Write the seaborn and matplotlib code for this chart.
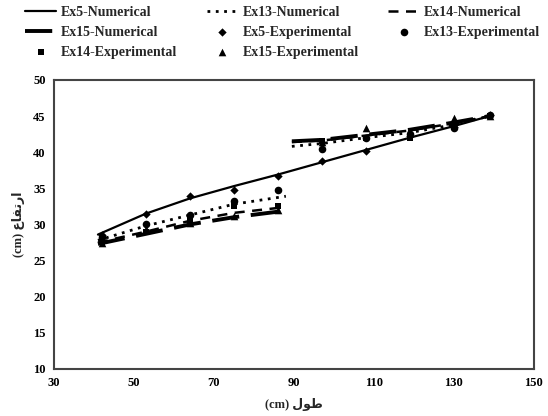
import matplotlib
matplotlib.use("Agg")
import matplotlib.pyplot as plt
import seaborn as sns

# ---- data ----
x_exp = [42, 53, 64, 75, 86, 97, 108, 119, 130, 139]
ex5_exp = [28.5, 31.5, 33.9, 34.7, 36.7, 38.8, 40.2, 42.2, 43.5, 45.1]
ex13_exp = [28.2, 30.0, 31.3, 33.3, 34.7, 40.4, 42.0, 42.5, 43.3, 45.1]
ex14_exp = [27.6, 29.0, 30.6, 32.6, 32.5, 41.6, 42.0, 42.0, 43.8, 45.0]
ex15_exp = [27.4, 29.4, 30.2, 31.1, 32.0, 41.4, 43.3, 42.8, 44.7, 45.0]

x_ex5_num = [41, 53, 64, 75, 86, 97, 108, 119, 130, 139]
ex5_num = [28.6, 31.5, 33.6, 35.3, 36.9, 38.6, 40.3, 42.0, 43.6, 45.0]

x_low = [41, 53, 64, 75, 88]
ex13_low = [27.8, 29.8, 31.3, 32.8, 33.9]
ex14_low = [27.5, 29.0, 30.5, 31.6, 32.4]
ex15_low = [27.3, 28.7, 30.0, 31.0, 31.9]

x_up = [89.5, 97, 108, 119, 130, 139]
ex13_up = [40.8, 41.2, 42.0, 42.7, 43.8, 45.0]
ex14_up = [41.4, 41.6, 42.3, 43.0, 44.0, 45.0]
ex15_up = [41.5, 41.7, 42.4, 43.1, 44.1, 45.0]

x_ticks = [30, 50, 70, 90, 110, 130, 150]
y_ticks = [10, 15, 20, 25, 30, 35, 40, 45, 50]

# Arabic labels (presentation forms in visual order, since matplotlib does no shaping)
xlabel = "(cm) \uFEDD\uFEEE\uFEC3"            # طول (cm)
ylabel = "(cm) \uFEC9\uFE8E\uFED4\uFE97\uFEAD\uFE8D"  # ارتفاع (cm)

sns.set_style("white")
FAM = ["Liberation Serif", "DejaVu Sans"]
plt.rcParams["font.family"] = FAM
plt.rcParams["font.weight"] = "bold"

fig = plt.figure(figsize=(5.48, 4.16), dpi=100)
ax = fig.add_axes([0.0985, 0.113, 0.8755, 0.695])

K = "black"
# numerical lines
sns.lineplot(x=x_ex5_num, y=ex5_num, ax=ax, color=K, lw=1.6, ls="-", label="Ex5-Numerical")
sns.lineplot(x=x_low, y=ex13_low, ax=ax, color=K, lw=2.0, ls=(0, (1, 2)), label="Ex13-Numerical")
sns.lineplot(x=x_up, y=ex13_up, ax=ax, color=K, lw=2.0, ls=(0, (1, 2)))
sns.lineplot(x=x_low, y=ex14_low, ax=ax, color=K, lw=1.8, ls=(0, (4, 3)), label="Ex14-Numerical")
sns.lineplot(x=x_up, y=ex14_up, ax=ax, color=K, lw=1.8, ls=(0, (4, 3)))
sns.lineplot(x=x_low, y=ex15_low, ax=ax, color=K, lw=2.8, ls=(0, (7, 3)), label="Ex15-Numerical")
sns.lineplot(x=x_up, y=ex15_up, ax=ax, color=K, lw=2.8, ls=(0, (7, 3)))

# experimental points
sns.scatterplot(x=x_exp, y=ex5_exp, ax=ax, color=K, marker="D", s=18, linewidth=0, label="Ex5-Experimental")
sns.scatterplot(x=x_exp, y=ex13_exp, ax=ax, color=K, marker="o", s=30, linewidth=0, label="Ex13-Experimental")
sns.scatterplot(x=x_exp, y=ex14_exp, ax=ax, color=K, marker="s", s=22, linewidth=0, label="Ex14-Experimental")
sns.scatterplot(x=x_exp, y=ex15_exp, ax=ax, color=K, marker="^", s=30, linewidth=0, label="Ex15-Experimental")

ax.set_xlim(30, 150)
ax.set_ylim(10, 50)
ax.set_xticks(x_ticks)
ax.set_yticks(y_ticks)
ax.set_xticklabels([str(v) for v in x_ticks], fontsize=9, fontweight="bold")
ax.set_yticklabels([str(v) for v in y_ticks], fontsize=9, fontweight="bold")
ax.tick_params(axis="both", direction="out", length=3, width=1, colors="#333333", labelcolor="black", pad=3)
for s in ax.spines.values():
    s.set_color("#444444")
    s.set_linewidth(1.5)
    s.set_visible(True)

ax.set_xlabel(xlabel, fontsize=9, fontweight="bold", family=FAM, labelpad=6)
ax.set_ylabel(ylabel, fontsize=9, fontweight="bold", family=FAM, labelpad=6)

handles, labels = ax.get_legend_handles_labels()
ax.get_legend().remove()
order_labels = ["Ex5-Numerical", "Ex15-Numerical", "Ex14-Experimental",
                "Ex13-Numerical", "Ex5-Experimental", "Ex15-Experimental",
                "Ex14-Numerical", "Ex13-Experimental"]
hmap = dict(zip(labels, handles))
fig.legend([hmap[l] for l in order_labels], order_labels, ncol=3, loc="upper left",
           bbox_to_anchor=(25 / 548, 1 - 6 / 416), frameon=False,
           prop={"family": "Liberation Serif", "weight": "bold", "size": 10},
           handlelength=2.25, columnspacing=2.1, handletextpad=0.35, labelspacing=0.5,
           borderpad=0, borderaxespad=0)

fig.savefig("out.png", dpi=100)
